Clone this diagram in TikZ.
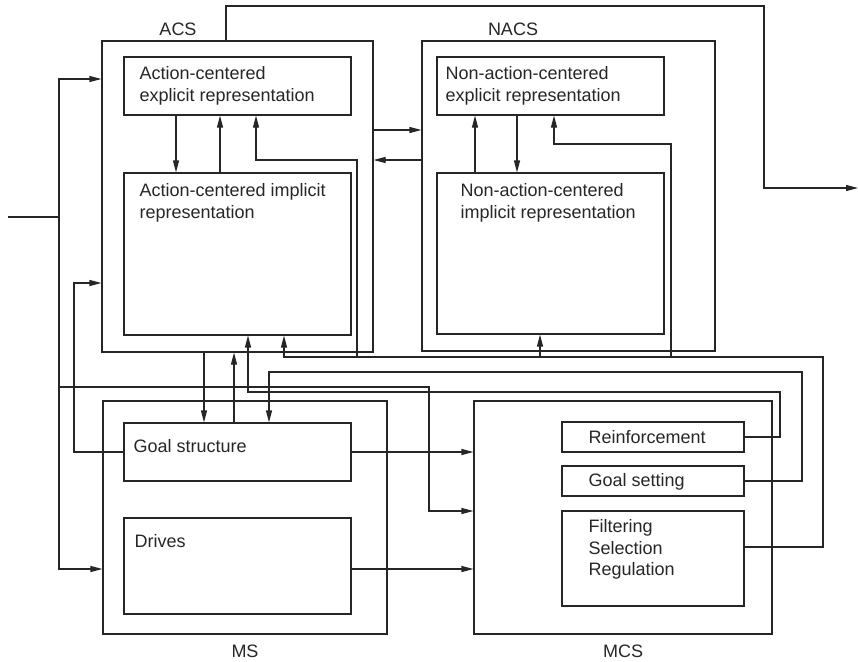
\documentclass[tikz,border=0pt]{standalone}
\usepackage{fontspec}
\setmainfont{Liberation Sans}
\usetikzlibrary{arrows.meta,fit}

\begin{document}
\begin{tikzpicture}[x=1pt,y=-1pt,>={Triangle[length=12pt,width=6pt]},line width=1.1pt,color=black!85,
  box/.style={draw,rectangle,inner sep=0pt},
  txt/.style={anchor=north west,inner sep=0pt,align=left,font=\fontsize{18}{21.5}\selectfont},
  lbl/.style={inner sep=0pt,font=\fontsize{18}{21.5}\selectfont}]
\useasboundingbox (0,0) rectangle (858,661);

\node[box,fit={(102,41) (373,352)}] (acs) {};
\node[box,fit={(124,57) (351,115)}] (acsexp) {};
\node[box,fit={(124,173) (351,335)}] (acsimp) {};
\node[box,fit={(422,41) (715,351)}] (nacs) {};
\node[box,fit={(437,57) (664,115)}] (nacsexp) {};
\node[box,fit={(437,173) (664,334)}] (nacsimp) {};
\node[box,fit={(103,401) (387,634)}] (ms) {};
\node[box,fit={(124,423) (351,481)}] (goal) {};
\node[box,fit={(124,518) (351,614)}] (drives) {};
\node[box,fit={(474,401) (772,634)}] (mcs) {};
\node[box,fit={(562,422) (744,452)}] (reinf) {};
\node[box,fit={(562,466) (744,496)}] (gset) {};
\node[box,fit={(562,511) (744,606)}] (filt) {};

\node[lbl] (acslbl) at (178,29) {ACS};
\node[lbl] (nacslbl) at (513,29) {NACS};
\node[lbl] (mslbl) at (245,651) {MS};
\node[lbl] (mcslbl) at (623,651) {MCS};
\node[txt] (acsexptxt) at (139,66) {Action-centered\\explicit representation};
\node[txt] (acsimptxt) at (139,183) {Action-centered implicit\\representation};
\node[txt] (nacsexptxt) at (445,66) {Non-action-centered\\explicit representation};
\node[txt] (nacsimptxt) at (460,183) {Non-action-centered\\implicit representation};
\node[txt] (goaltxt) at (133,439) {Goal structure};
\node[txt] (drivestxt) at (134,534) {Drives};
\node[txt] (reinftxt) at (588,430) {Reinforcement};
\node[txt] (gsettxt) at (588,473) {Goal setting};
\node[txt] (filttxt) at (588,519) {Filtering\\Selection\\Regulation};

\coordinate (in) at (8,217);
\coordinate (inbus) at (59,217);
\coordinate (out) at (858,188);
\coordinate (acsbus) at (357,357);
\coordinate (nacsbus) at (671,357);
\coordinate (nacsup) at (540,357);
\draw (in)--(inbus);
\draw[->] (inbus)|-(acs.west|-0,79);
\draw[->] (inbus)|-(ms.west|-0,569);
\draw[->] (inbus)|-(429,387)|-(mcs.west|-0,511);
\draw[->] (acs.east|-0,130)--(nacs.west|-0,130);
\draw[->] (nacs.west|-0,160)--(acs.east|-0,160);
\draw[->] (acsexp.south-|176,0)--(acsimp.north-|176,0);
\draw[->] (acsimp.north-|220,0)--(acsexp.south-|220,0);
\draw[->] (nacsimp.north-|475,0)--(nacsexp.south-|475,0);
\draw[->] (nacsexp.south-|517,0)--(nacsimp.north-|517,0);
\draw[->] (acs.north-|226,0)|-(764,6)|-(out);
\draw[->] (acs.south-|204,0)--(goal.north-|204,0);
\draw[->] (goal.north-|234,0)--(acs.south-|234,0);
\draw[->] (goal.west)-|(74,283)--(acs.west|-0,283);
\draw[->] (goal.east)--(mcs.west|-goal.east);
\draw[->] (drives.east|-0,569)--(mcs.west|-0,569);
\draw[->] (reinf.east)-|(780,392)-|(acsimp.south-|248,0);
\draw[->] (gset.east)-|(802,372)-|(goal.north-|269,0);
\draw[->] (filt.east|-0,547)-|(823,357)-|(acsimp.south-|284,0);
\draw[->] (nacsup)--(nacsimp.south-|nacsup);
\draw[->] (acsbus)|-(256,160)--(acsexp.south-|256,0);
\draw[->] (nacsbus)|-(554,144)--(nacsexp.south-|554,0);
\end{tikzpicture}
\end{document}
